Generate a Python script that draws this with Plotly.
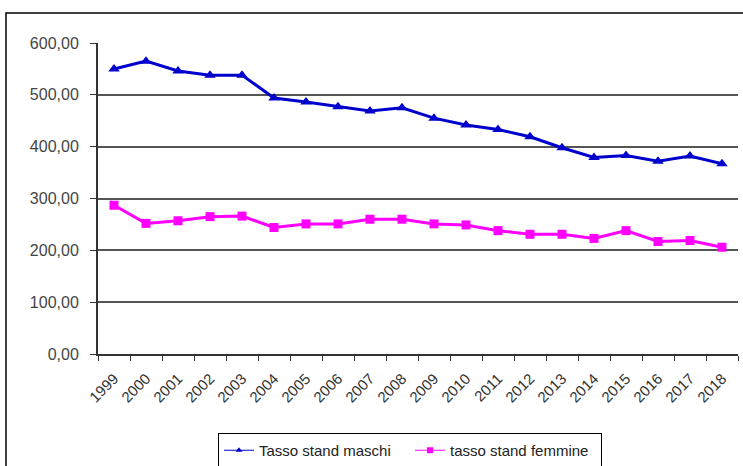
import plotly.graph_objects as go

years = [str(y) for y in range(1999, 2019)]
maschi = [550, 565, 546, 538, 538, 494, 486, 477, 469, 475, 455, 442, 433, 419, 398, 379, 383, 372, 382, 367]
femmine = [287, 252, 257, 265, 266, 244, 251, 251, 260, 260, 251, 249, 238, 231, 231, 223, 238, 217, 219, 206]
y_ticks = [0, 100, 200, 300, 400, 500, 600]

BLUE = "#0000CC"
MAGENTA = "#FF00FF"

fig = go.Figure()
fig.add_trace(go.Scatter(
    x=years, y=maschi, name="Tasso stand maschi", mode="lines+markers",
    line=dict(color=BLUE, width=3),
    marker=dict(symbol="triangle-up", size=10, color=BLUE),
    showlegend=False,
))
fig.add_trace(go.Scatter(
    x=years, y=femmine, name="tasso stand femmine", mode="lines+markers",
    line=dict(color=MAGENTA, width=3),
    marker=dict(symbol="square", size=9, color=MAGENTA),
    showlegend=False,
))
# legend-only entries (thin line, small marker as in the reference legend)
fig.add_trace(go.Scatter(
    x=[None], y=[None], name="Tasso stand maschi", mode="lines+markers",
    line=dict(color=BLUE, width=1),
    marker=dict(symbol="triangle-up", size=6, color=BLUE),
))
fig.add_trace(go.Scatter(
    x=[None], y=[None], name="tasso stand femmine", mode="lines+markers",
    line=dict(color=MAGENTA, width=1),
    marker=dict(symbol="square", size=6, color=MAGENTA),
))

fig.update_layout(
    width=743, height=466,
    margin=dict(l=98, r=5, t=43, b=112, autoexpand=False),
    paper_bgcolor="white", plot_bgcolor="white",
    separators=",.",
    font=dict(family="Liberation Sans, Arial, sans-serif", size=13, color="#333333"),
    showlegend=True,
    legend=dict(
        orientation="h", x=0.4875, xanchor="center", y=-0.254, yanchor="top",
        bordercolor="#000000", borderwidth=1, bgcolor="white",
        font=dict(size=15, color="#222222"),
        entrywidth=146, entrywidthmode="pixels",
    ),
    shapes=[dict(
        type="rect", xref="paper", yref="paper",
        x0=-0.14375, x1=1.2, y0=-0.4, y1=1.0965,
        line=dict(color="#000000", width=1.5), layer="below",
    )],
)
fig.update_xaxes(
    type="category", range=[-0.5, 19.5], automargin=False,
    tickangle=-45, tickson="boundaries", ticks="outside", ticklen=5,
    tickcolor="#333333", showline=True, linecolor="#333333", linewidth=2,
    showgrid=False, tickfont=dict(size=15, color="#333333"),
    ticklabelstandoff=8,
)
fig.update_yaxes(
    range=[0, 600], tickvals=y_ticks, tickformat=".2f", automargin=False,
    ticks="outside", ticklen=6, tickcolor="#333333",
    showline=True, linecolor="#333333", linewidth=2,
    showgrid=True, gridcolor="#555555", gridwidth=1.5,
    zeroline=False, tickfont=dict(size=16, color="#444444"),
    ticklabelstandoff=8,
)

fig.write_html("out.html")
